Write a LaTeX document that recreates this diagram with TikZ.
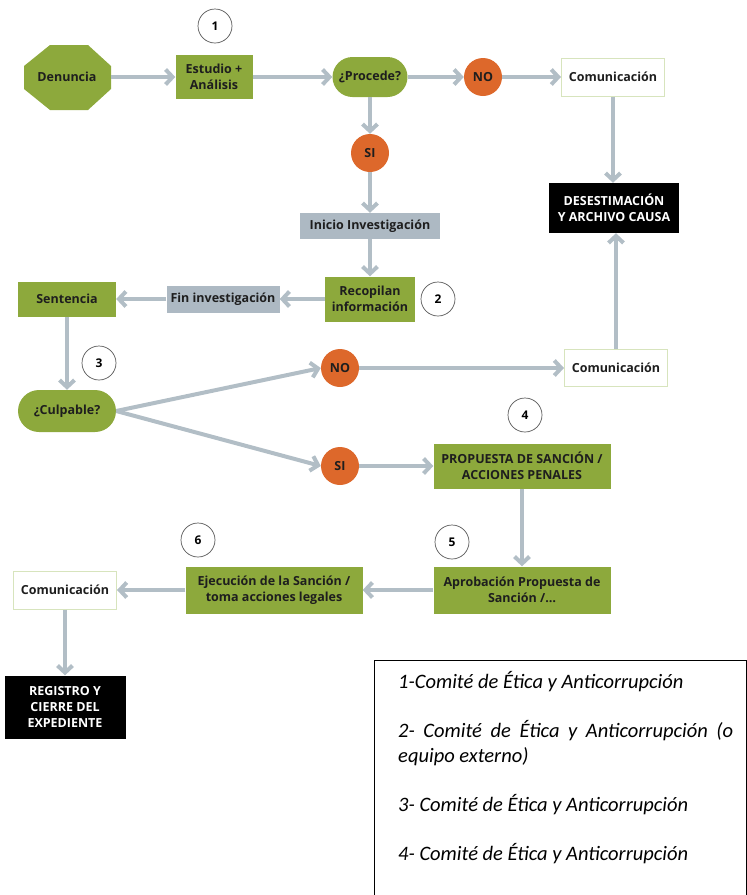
\documentclass[tikz,border=0pt]{standalone}
\usepackage{fontspec}
\setmainfont{Open Sans}
\newfontfamily\leyfont{Carlito}
\usetikzlibrary{shapes.geometric,arrows.meta,calc}

\definecolor{verde}{RGB}{141,169,60}
\definecolor{naranja}{RGB}{221,104,43}
\definecolor{grisbox}{RGB}{173,185,195}
\definecolor{flechagris}{RGB}{178,190,198}
\definecolor{bordeverde}{RGB}{215,228,189}
\definecolor{textooscuro}{RGB}{30,30,30}

\tikzset{
  caja/.style={rectangle, inner sep=0pt, align=center, text=textooscuro,
    font=\bfseries\fontsize{12.5}{16}\selectfont},
  cajaverde/.style={caja, fill=verde},
  cajagris/.style={caja, fill=grisbox},
  cajablanca/.style={caja, fill=white, draw=bordeverde, line width=1pt},
  cajanegra/.style={caja, fill=black, text=white},
  decision/.style={caja, fill=verde, rounded corners=20pt},
  respuesta/.style={circle, fill=naranja, inner sep=0pt, minimum size=38pt,
    text=textooscuro, font=\bfseries\fontsize{12.5}{15}\selectfont},
  num/.style={circle, draw=black!65, line width=0.7pt, fill=white, inner sep=0pt,
    minimum size=34pt, font=\bfseries\fontsize{12}{14}\selectfont},
  flecha/.style={draw=flechagris, line width=4pt, -{Straight Barb[length=7pt,width=15pt]}}
}

\begin{document}
\begin{tikzpicture}[x=1pt,y=-1pt]
  \useasboundingbox (0,0) rectangle (747,895);

  % Denuncia (octogono)
  \fill[verde, shift={(67,77)}] (-43,-11) -- (-17,-32) -- (21,-32) -- (44,-11)
    -- (44,12) -- (21,33) -- (-17,33) -- (-43,12) -- cycle;
  \node[caja, minimum width=87pt, minimum height=65pt] (den) at (67,77) {Denuncia};

  % Primera fila
  \node[cajaverde, minimum width=77pt, minimum height=44pt] (est) at (214,77) {Estudio +\\Análisis};
  \node[decision, minimum width=75pt, minimum height=40pt] (pro) at (370,77) {¿Procede?};
  \node[respuesta] (no1) at (483,77) {NO};
  \node[cajablanca, minimum width=103pt, minimum height=38pt] (com1) at (613,77) {Comunicación};
  \node[cajanegra, minimum width=130pt, minimum height=50pt] (des) at (614,208) {DESESTIMACIÓN\\Y ARCHIVO CAUSA};

  % Investigacion
  \node[respuesta] (si1) at (370,153) {SI};
  \node[cajagris, minimum width=140pt, minimum height=26pt] (ini) at (370,226) {Inicio Investigación};
  \node[cajaverde, minimum width=90pt, minimum height=45pt] (rec) at (370,299) {Recopilan\\información};
  \node[cajagris, minimum width=113pt, minimum height=27pt] (fin) at (223,299) {Fin investigación};
  \node[cajaverde, minimum width=98pt, minimum height=35pt] (sen) at (67,299) {Sentencia};

  % Culpabilidad
  \node[decision, minimum width=98pt, minimum height=42pt, rounded corners=21pt] (cul) at (67,411) {¿Culpable?};
  \node[respuesta] (no2) at (340,368) {NO};
  \node[cajablanca, minimum width=103pt, minimum height=37pt] (com2) at (616,368) {Comunicación};
  \node[respuesta] (si2) at (340,466) {SI};
  \node[cajaverde, minimum width=177pt, minimum height=45pt] (prop) at (522,466) {PROPUESTA DE SANCIÓN /\\ACCIONES PENALES};
  \node[cajaverde, minimum width=177pt, minimum height=47pt] (apr) at (522,590) {Aprobación Propuesta de\\Sanción /\ldots};
  \node[cajaverde, minimum width=177pt, minimum height=47pt] (eje) at (274,590) {Ejecución de la Sanción /\\toma acciones legales};
  \node[cajablanca, minimum width=103pt, minimum height=38pt] (com3) at (65,590) {Comunicación};
  \node[cajanegra, minimum width=121pt, minimum height=63pt] (reg) at (65,707) {REGISTRO Y\\CIERRE DEL\\EXPEDIENTE};

  % Numeros
  \foreach \n/\x/\y in {1/215/26, 2/438/299, 3/99/363, 4/525/415, 5/452/542, 6/198/540}
    \node[num] (n\n) at (\x,\y) {\n};

  % Flechas
  \draw[flecha] (den) -- (est);
  \draw[flecha] (est) -- (pro);
  \draw[flecha] (pro) -- (no1);
  \draw[flecha] (no1) -- (com1);
  \draw[flecha] (com1) -- (com1 |- des.north);
  \draw[flecha] (pro) -- (si1);
  \draw[flecha] (si1) -- (ini);
  \draw[flecha] (ini) -- (rec);
  \draw[flecha] (rec) -- (fin);
  \draw[flecha] (fin) -- (sen);
  \draw[flecha] (sen) -- (cul);
  \draw[flecha] (cul.east) -- (no2.west);
  \draw[flecha] (cul.east) -- (si2.west);
  \draw[flecha] (no2) -- (com2);
  \draw[flecha] (com2) -- (com2 |- des.south);
  \draw[flecha] (si2) -- (prop);
  \draw[flecha] (prop) -- (apr);
  \draw[flecha] (apr) -- (eje);
  \draw[flecha] (eje) -- (com3);
  \draw[flecha] (com3) -- (reg);

  % Leyenda
  \draw[line width=0.8pt] (374,900) -- (374,660) -- (746,660) -- (746,900);
  \node[anchor=north west, inner sep=0pt, text width=335pt, align=justify,
    font=\leyfont\itshape\fontsize{20.5}{25}\selectfont] (ley) at (398,671) {%
    \setlength{\parskip}{24pt}%
    1-Comité de Ética y Anticorrupción\par
    2- Comité de Ética y Anticorrupción (o\linebreak equipo externo)\par
    3- Comité de Ética y Anticorrupción\par
    4- Comité de Ética y Anticorrupción};
\end{tikzpicture}
\end{document}
